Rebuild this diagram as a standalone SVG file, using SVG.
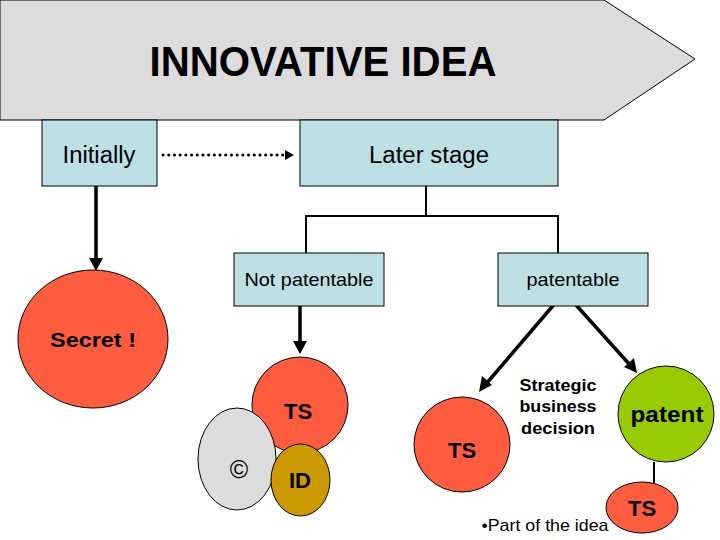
<svg xmlns="http://www.w3.org/2000/svg" width="720" height="540" viewBox="0 0 720 540">
<style>
.box{fill:#bde0e4;stroke:#000;stroke-width:1}
.red{fill:#ff5c40;stroke:#000;stroke-width:1}
.t{font-family:"Liberation Sans",Arial,sans-serif;fill:#000;text-anchor:middle}
.b{font-weight:bold}
.conn{fill:none;stroke:#000;stroke-width:2}
.thick{fill:none;stroke:#000;stroke-width:3.5}
</style>
<rect width="720" height="540" fill="#fff"/>
<g id="banner">
<polygon points="0,0 604,0 695,59 604,120 0,120" fill="#dcdcdc" stroke="#000" stroke-width="1"/>
<text class="t b" x="323" y="76" font-size="42" textLength="347" lengthAdjust="spacingAndGlyphs">INNOVATIVE IDEA</text>
</g>
<g id="connectors">
<line x1="163" y1="155" x2="285" y2="155" stroke="#000" stroke-width="3" stroke-linecap="round" stroke-dasharray="0.1 5.6"/>
<polygon points="285,150 294,155 285,160" fill="#000"/>
<polyline class="conn" points="426,186 426,216"/>
<polyline class="conn" points="306,253 306,216 558,216 558,253"/>
<line class="thick" x1="96" y1="186" x2="96" y2="262"/>
<polygon points="89,258 96,271 103,258" fill="#000"/>
<line class="thick" x1="300" y1="306" x2="300" y2="345"/>
<polygon points="293,341 300,354 307,341" fill="#000"/>
<line class="thick" x1="557" y1="301" x2="486" y2="384"/>
<polygon points="479,392 482,376 492,385" fill="#000"/>
<line class="thick" x1="576" y1="305" x2="630" y2="365"/>
<polygon points="637,373 624,367 634,358" fill="#000"/>
<line x1="654" y1="462" x2="654" y2="483" stroke="#000" stroke-width="2"/>
</g>
<g id="initially">
<rect class="box" x="42" y="120" width="115" height="66"/>
<text class="t" x="99" y="163" font-size="23" textLength="73" lengthAdjust="spacingAndGlyphs">Initially</text>
</g>
<g id="later-stage">
<rect class="box" x="300" y="120" width="258" height="66"/>
<text class="t" x="429" y="163" font-size="23" textLength="120" lengthAdjust="spacingAndGlyphs">Later stage</text>
</g>
<g id="not-patentable">
<rect class="box" x="234" y="253" width="150" height="53"/>
<text class="t" x="309" y="286" font-size="19" textLength="129" lengthAdjust="spacingAndGlyphs">Not patentable</text>
</g>
<g id="patentable">
<rect class="box" x="498" y="253" width="150" height="53"/>
<text class="t" x="573" y="286" font-size="19" textLength="93" lengthAdjust="spacingAndGlyphs">patentable</text>
</g>
<g id="secret">
<ellipse class="red" cx="93" cy="339" rx="75" ry="69"/>
<text class="t b" x="93" y="347" font-size="21" textLength="86" lengthAdjust="spacingAndGlyphs">Secret !</text>
</g>
<g id="ts-left">
<ellipse class="red" cx="300" cy="405" rx="48" ry="48"/>
<text class="t b" x="298" y="419" font-size="22">TS</text>
</g>
<g id="copyright">
<ellipse cx="237" cy="459" rx="39" ry="51" fill="#dcdcdc" stroke="#000" stroke-width="1"/>
<text class="t" x="239" y="478" font-size="25">©</text>
</g>
<g id="id">
<ellipse cx="300.5" cy="480" rx="29.5" ry="36" fill="#cc9900" stroke="#000" stroke-width="1"/>
<text class="t b" x="300" y="488" font-size="22">ID</text>
</g>
<g id="ts-middle">
<ellipse class="red" cx="462" cy="444.5" rx="48" ry="47.5"/>
<text class="t b" x="462" y="458" font-size="22">TS</text>
</g>
<g id="strategic">
<text class="t b" x="558" y="391" font-size="17" textLength="77" lengthAdjust="spacingAndGlyphs">Strategic</text>
<text class="t b" x="558" y="412" font-size="17" textLength="77" lengthAdjust="spacingAndGlyphs">business</text>
<text class="t b" x="558" y="434" font-size="17" textLength="74" lengthAdjust="spacingAndGlyphs">decision</text>
</g>
<g id="patent">
<circle cx="666" cy="414" r="48" fill="#99cc00" stroke="#000" stroke-width="1"/>
<text class="t b" x="667" y="422" font-size="22" textLength="73" lengthAdjust="spacingAndGlyphs">patent</text>
</g>
<g id="part-of-idea">
<text class="t" x="545" y="531" font-size="17" textLength="127" lengthAdjust="spacingAndGlyphs">•Part of the idea</text>
</g>
<g id="ts-small">
<ellipse class="red" cx="642" cy="507.5" rx="36" ry="25.5"/>
<text class="t b" x="642" y="516" font-size="22">TS</text>
</g>
</svg>
